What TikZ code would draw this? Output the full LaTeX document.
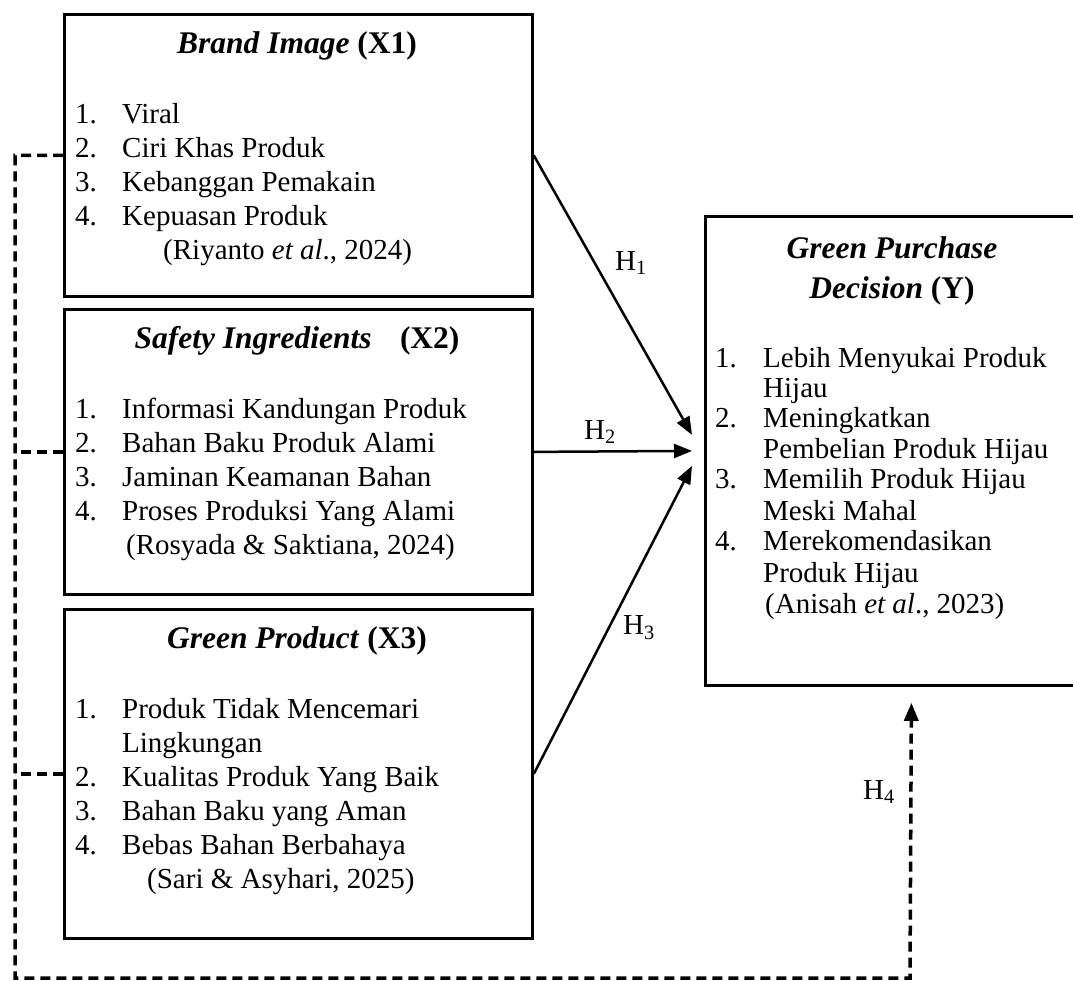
\documentclass[tikz,border=0pt]{standalone}
\usepackage{fontspec}
\setmainfont{Liberation Serif}
\usetikzlibrary{arrows.meta}
\begin{document}
\begin{tikzpicture}[x=1pt,y=-1pt,
  box/.style={draw, line width=2.8pt, minimum width=468pt, anchor=north west, inner sep=0pt},
  txt/.style={anchor=base west, inner sep=0pt, font=\fontsize{29}{34}\selectfont},
  ttl/.style={anchor=base, inner sep=0pt, font=\fontsize{31.5}{36}\selectfont\bfseries},
  lbl/.style={inner sep=0pt, font=\fontsize{29}{34}\selectfont},
  tip/.style={-{Triangle[length=18pt,width=14pt]}},
  conn/.style={line width=2.5pt, tip},
  dashline/.style={line width=3.5pt, dash pattern=on 10pt off 6pt}
]
\useasboundingbox (0,0) rectangle (1073,980);

% boxes
\node[box, minimum height=282pt] (x1) at (63,13) {};
\node[box, minimum height=285pt] (x2) at (63,308) {};
\node[box, minimum height=329pt] (x3) at (63,608) {};
\node[box, minimum width=376pt, minimum height=469pt] (y) at (704,215) {};

% X1 text
\node[ttl] (x1t) at (297,53) {\textit{Brand Image} (X1)};
\node[txt] (x1n1) at (75,123) {1.}; \node[txt] (x1i1) at (122,123) {Viral};
\node[txt] (x1n2) at (75,157) {2.}; \node[txt] (x1i2) at (122,157) {Ciri Khas Produk};
\node[txt] (x1n3) at (75,191) {3.}; \node[txt] (x1i3) at (122,191) {Kebanggan Pemakain};
\node[txt] (x1n4) at (75,225) {4.}; \node[txt] (x1i4) at (122,225) {Kepuasan Produk};
\node[txt] (x1c) at (163,259) {(Riyanto \textit{et al}., 2024)};

% X2 text
\node[ttl] (x2t) at (297,348) {\textit{Safety Ingredients}\hspace{0.9em}(X2)};
\node[txt] (x2n1) at (75,418) {1.}; \node[txt] (x2i1) at (122,418) {Informasi Kandungan Produk};
\node[txt] (x2n2) at (75,452) {2.}; \node[txt] (x2i2) at (122,452) {Bahan Baku Produk Alami};
\node[txt] (x2n3) at (75,486) {3.}; \node[txt] (x2i3) at (122,486) {Jaminan Keamanan Bahan};
\node[txt] (x2n4) at (75,520) {4.}; \node[txt] (x2i4) at (122,520) {Proses Produksi Yang Alami};
\node[txt] (x2c) at (126,554) {(Rosyada \& Saktiana, 2024)};

% X3 text
\node[ttl] (x3t) at (297,648) {\textit{Green Product} (X3)};
\node[txt] (x3n1) at (75,718) {1.}; \node[txt] (x3i1) at (122,718) {Produk Tidak Mencemari};
\node[txt] (x3i1b) at (122,752) {Lingkungan};
\node[txt] (x3n2) at (75,786) {2.}; \node[txt] (x3i2) at (122,786) {Kualitas Produk Yang Baik};
\node[txt] (x3n3) at (75,820) {3.}; \node[txt] (x3i3) at (122,820) {Bahan Baku yang Aman};
\node[txt] (x3n4) at (75,854) {4.}; \node[txt] (x3i4) at (122,854) {Bebas Bahan Berbahaya};
\node[txt] (x3c) at (147,888) {(Sari \& Asyhari, 2025)};

% Y text
\node[ttl] (yt1) at (892,258) {\textit{Green Purchase}};
\node[ttl] (yt2) at (892,298) {\textit{Decision} (Y)};
\node[txt] (yn1) at (715,367) {1.}; \node[txt] (yi1) at (763,367) {Lebih Menyukai Produk};
\node[txt] (yi1b) at (763,397) {Hijau};
\node[txt] (yn2) at (715,427) {2.}; \node[txt] (yi2) at (763,427) {Meningkatkan};
\node[txt] (yi2b) at (763,458) {Pembelian Produk Hijau};
\node[txt] (yn3) at (715,488) {3.}; \node[txt] (yi3) at (763,488) {Memilih Produk Hijau};
\node[txt] (yi3b) at (763,520) {Meski Mahal};
\node[txt] (yn4) at (715,550) {4.}; \node[txt] (yi4) at (763,550) {Merekomendasikan};
\node[txt] (yi4b) at (763,582) {Produk Hijau};
\node[txt] (yc) at (765,613) {(Anisah \textit{et al}., 2023)};

% connectors
\draw[conn] (x1.east) -- ([xshift=-12pt,yshift=16pt]y.west);
\draw[conn] (x2.east) -- ([xshift=-12pt]y.west);
\draw[conn] (x3.east) -- ([xshift=-12pt,yshift=-15pt]y.west);

% labels
\node[lbl] (h1) at (631,263) {H\textsubscript{1}};
\node[lbl] (h2) at (600,432) {H\textsubscript{2}};
\node[lbl] (h3) at (639,628) {H\textsubscript{3}};
\node[lbl] (h4) at (879,792) {H\textsubscript{4}};

% dashed moderation path
\coordinate (c1) at (15,978);
\coordinate (c2) at (910,978);
\draw[dashline, tip] (x1.west) -- (x1.west -| c1) -- (c1) -- (c2)
  -- ([xshift=18pt,yshift=-16pt]y.south);
\draw[dashline] (x2.west) -- (x2.west -| c1);
\draw[dashline] (x3.west) -- (x3.west -| c1);
\end{tikzpicture}
\end{document}
